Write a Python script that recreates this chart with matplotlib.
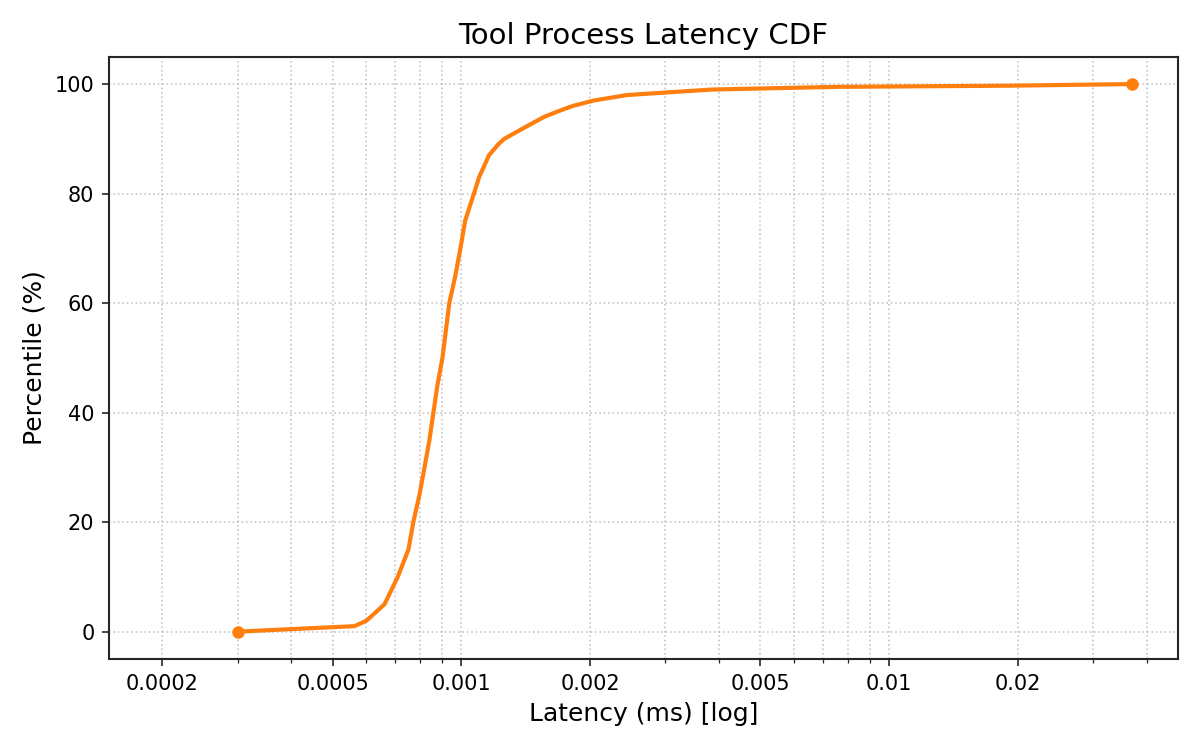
import matplotlib
matplotlib.use("Agg")
import matplotlib.pyplot as plt
from matplotlib.ticker import FixedLocator, FuncFormatter, NullFormatter
import numpy as np

# Data
percentiles = [0, 1, 2, 5, 10, 15, 20, 25, 30, 35, 40, 45, 50, 55, 60, 65, 70,
               75, 80, 83, 85, 87, 89, 90, 92, 94, 95, 96, 97, 98, 99, 99.5, 99.7, 100]
latency_ms = [0.0003, 0.000562, 0.0006, 0.000661, 0.00071, 0.000752, 0.000772,
              0.000798, 0.00082, 0.000842, 0.00086, 0.000879, 0.000903, 0.00092,
              0.000937, 0.000968, 0.000995, 0.00102, 0.00107, 0.0011, 0.00113,
              0.00116, 0.00122, 0.00126, 0.0014, 0.00156, 0.00168, 0.00182,
              0.00204, 0.00244, 0.00384, 0.00764, 0.0188, 0.037]
major_ticks = [0.0002, 0.0005, 0.001, 0.002, 0.005, 0.01, 0.02]
major_labels = ["0.0002", "0.0005", "0.001", "0.002", "0.005", "0.01", "0.02"]

color = "#ff7f0e"
spine_color = "#262626"

fig, ax = plt.subplots(figsize=(8, 5), dpi=150)
fig.subplots_adjust(left=0.0908, right=0.9817, bottom=0.1213, top=0.9244)
ax.plot(latency_ms, percentiles, color=color, linewidth=2.0)
ax.plot([latency_ms[0], latency_ms[-1]], [percentiles[0], percentiles[-1]],
        "o", color=color, markersize=5)

ax.set_xscale("log")
ax.set_xlim(min(latency_ms) * 0.5, max(latency_ms) * 1.28)
ax.set_ylim(-5, 105)

minor = []
for dec in [1e-4, 1e-3, 1e-2]:
    for m in range(1, 10):
        v = m * dec
        if not any(np.isclose(v, t) for t in major_ticks):
            minor.append(v)
ax.xaxis.set_major_locator(FixedLocator(major_ticks))
ax.xaxis.set_major_formatter(FuncFormatter(
    lambda v, p: major_labels[major_ticks.index(min(major_ticks, key=lambda t: abs(t - v)))]))
ax.xaxis.set_minor_locator(FixedLocator(minor))
ax.xaxis.set_minor_formatter(NullFormatter())
ax.set_yticks([0, 20, 40, 60, 80, 100])

for s in ax.spines.values():
    s.set_color(spine_color)
    s.set_linewidth(1.0)
ax.tick_params(which="both", color=spine_color)

ax.grid(True, which="both", linestyle=":", color="#b0b0b0", linewidth=0.8, alpha=0.7)
ax.set_axisbelow(True)

ax.set_title("Tool Process Latency CDF", fontsize=14)
ax.set_xlabel("Latency (ms) [log]", fontsize=12)
ax.set_ylabel("Percentile (%)", fontsize=12)

fig.savefig("out.png", dpi=150)
